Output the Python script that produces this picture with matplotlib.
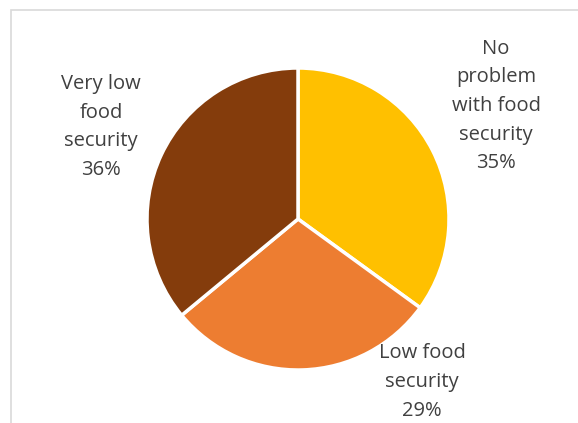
import matplotlib.pyplot as plt
from matplotlib.patches import Rectangle

labels = ["No\nproblem\nwith food\nsecurity", "Low food\nsecurity", "Very low\nfood\nsecurity"]
shares = [35, 29, 36]
colors = ["#FFC000", "#ED7D31", "#843C0C"]

W, H = 578, 423
fig = plt.figure(figsize=(W / 100, H / 100), dpi=100)
ax = fig.add_axes([0, 0, 1, 1])

# chart frame (cropped on right and bottom)
fig.patches.append(Rectangle((11 / W, -0.1), 1.2, 1 - 10 / H + 0.1,
                             transform=fig.transFigure, fill=False,
                             edgecolor="#D9D9D9", linewidth=1.2))

ax.pie(shares, colors=colors, startangle=90, counterclock=False,
       center=(298, H - 219), radius=151, frame=True,
       wedgeprops=dict(edgecolor="white", linewidth=2.5))
ax.set_xlim(0, W)
ax.set_ylim(0, H)
ax.set_aspect("equal")
ax.axis("off")

label_pos = [(496, 106), (422, 382), (101, 127)]
for lab, s, (x, y) in zip(labels, shares, label_pos):
    ax.text(x, H - y, f"{lab}\n{s}%", ha="center", va="center",
            fontsize=14.5, color="#404040", family="Open Sans",
            linespacing=1.58)

fig.savefig("out.png", dpi=100)
